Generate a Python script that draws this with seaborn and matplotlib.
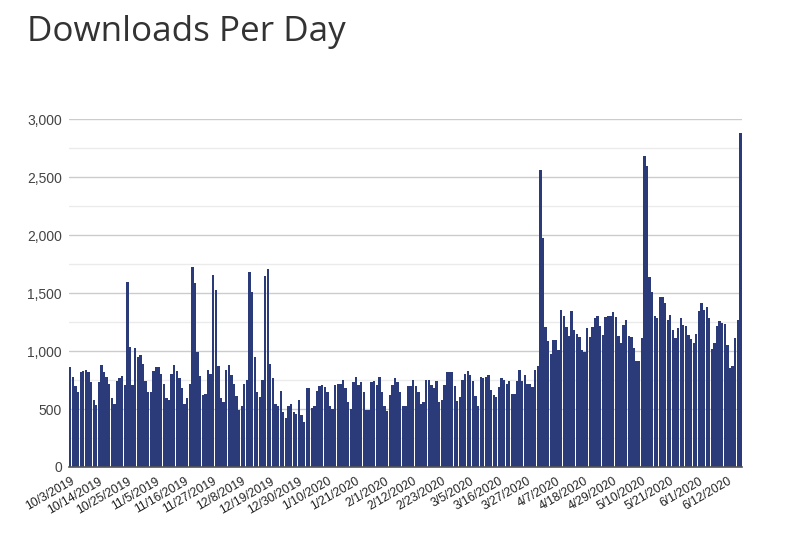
import matplotlib
matplotlib.use("Agg")
import matplotlib.pyplot as plt
import seaborn as sns
import pandas as pd
from matplotlib.ticker import FuncFormatter, MultipleLocator

# ---- data (daily downloads) ----
oct_2019 = [862, 776, 701, 644, 816, 828, 839, 816, 730, 580, 537, 730, 879, 816, 776,
            718, 592, 546, 739, 764, 782, 707, 1595, 1032, 707, 1023, 946, 966, 891]
nov_2019 = [741, 644, 644, 828, 862, 862, 805, 718, 592, 580, 805, 879, 828, 770, 678,
            546, 592, 718, 1724, 1584, 992, 787, 624, 632, 839, 799, 1658, 1529, 874, 592]
dec_2019 = [558, 839, 879, 793, 718, 615, 494, 529, 718, 753, 1681, 1506, 948, 644, 604,
            753, 1650, 1710, 891, 764, 546, 529, 655, 471, 420, 529, 546, 471, 460, 580, 451]
jan_2020 = [385, 678, 678, 506, 529, 655, 701, 707, 690, 650, 529, 500, 707, 718, 718,
            753, 678, 558, 500, 730, 776, 707, 730, 644, 489, 494, 730, 741, 707, 776, 644]
feb_2020 = [529, 480, 620, 707, 764, 730, 644, 529, 529, 701, 701, 753, 701, 644, 540,
            558, 753, 753, 707, 678, 741, 563, 580, 707, 816, 816, 816, 701, 569]
mar_2020 = [604, 753, 802, 828, 793, 741, 615, 529, 776, 770, 776, 793, 667, 620, 604,
            690, 764, 753, 718, 741, 632, 632, 741, 839, 741, 793, 718, 718, 687, 839, 868]
apr_2020 = [2564, 1980, 1204, 1089, 977, 1098, 1098, 1012, 1357, 1299, 1207, 1127, 1345, 1184, 1150,
            1121, 1012, 989, 1196, 1121, 1207, 1282, 1299, 1213, 1138, 1293, 1299, 1299, 1336, 1293]
may_2020 = [1127, 1069, 1224, 1270, 1127, 1121, 1023, 914, 914, 1109, 2681, 2598, 1635, 1506, 1299,
            1282, 1463, 1463, 1414, 1270, 1313, 1178, 1109, 1196, 1282, 1227, 1219, 1141, 1100, 1069, 1150]
jun_2020 = [1345, 1414, 1357, 1377, 1282, 1017, 1069, 1213, 1259, 1242, 1230, 1055, 854, 874, 1109,
            1264, 2885]

tick_labels = ["10/3/2019", "10/14/2019", "10/25/2019", "11/5/2019", "11/16/2019",
               "11/27/2019", "12/8/2019", "12/19/2019", "12/30/2019", "1/10/2020",
               "1/21/2020", "2/1/2020", "2/12/2020", "2/23/2020", "3/5/2020",
               "3/16/2020", "3/27/2020", "4/7/2020", "4/18/2020", "4/29/2020",
               "5/10/2020", "5/21/2020", "6/1/2020", "6/12/2020"]

downloads = (oct_2019 + nov_2019 + dec_2019 + jan_2020 + feb_2020 +
             mar_2020 + apr_2020 + may_2020 + jun_2020)
days = pd.date_range("2019-10-03", periods=len(downloads), freq="D")
labels = [f"{d.month}/{d.day}/{d.year}" for d in days]
df = pd.DataFrame({"day": labels, "downloads": downloads})

# ---- style ----
sns.set_theme(style="white")
plt.rcParams["font.family"] = ["Liberation Sans", "DejaVu Sans"]

fig = plt.figure(figsize=(7.85, 5.59), dpi=100)
ax = fig.add_axes([0.0879, 0.1646, 0.857, 0.622])

sns.barplot(data=df, x="day", y="downloads", order=labels, color="#2b3a78",
            saturation=1, width=0.9, errorbar=None, edgecolor="none", ax=ax)

ax.set_xlim(-0.5, len(labels) - 0.5)
ax.set_ylim(0, 3000)
ax.yaxis.set_major_locator(MultipleLocator(500))
ax.yaxis.set_minor_locator(MultipleLocator(250))
ax.yaxis.set_major_formatter(FuncFormatter(lambda v, p: f"{int(v):,}"))
ax.grid(True, axis="y", which="major", color="#cccccc", lw=1)
ax.grid(True, axis="y", which="minor", color="#ebebeb", lw=1)
ax.set_axisbelow(True)

for s in ["top", "right", "left"]:
    ax.spines[s].set_visible(False)
ax.spines["bottom"].set_color("#555555")
ax.spines["bottom"].set_linewidth(1.2)

ax.tick_params(axis="y", which="both", length=0, pad=5, labelsize=10, labelcolor="#444444")
tick_pos = [labels.index(t) for t in tick_labels]
ax.set_xticks(tick_pos)
ax.set_xticklabels(tick_labels, rotation=30, ha="right", rotation_mode="anchor",
                   fontsize=8.7, color="#222222")
ax.tick_params(axis="x", length=0, pad=6)
ax.set_xlabel("")
ax.set_ylabel("")

fig.text(0.034, 0.927, "Downloads Per Day", fontsize=25.2, color="#333333",
         family=["Open Sans", "DejaVu Sans"], va="baseline", ha="left")

fig.savefig("out.png", dpi=100)
